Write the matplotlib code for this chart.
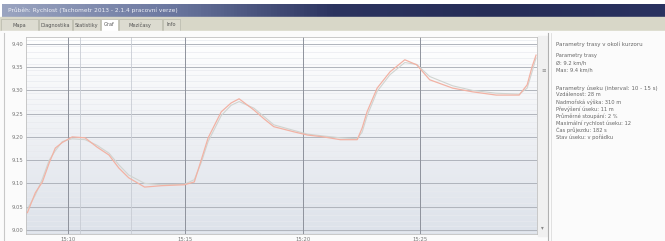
import matplotlib
matplotlib.use("Agg")
import matplotlib.pyplot as plt
from matplotlib.patches import Rectangle
import numpy as np

# time in minutes after 15:00, value of the plotted quantity
minutes = [8.26, 8.60, 8.90, 9.19, 9.45, 9.75, 10.17, 10.72, 11.23, 11.74, 12.16,
           12.58, 13.26, 13.98, 14.96, 15.38, 15.68, 15.97, 16.53, 16.95, 17.29,
           17.92, 18.35, 18.77, 19.62, 20.21, 20.89, 21.61, 22.33, 22.54, 22.75,
           23.18, 23.73, 24.36, 24.87, 25.42, 26.40, 27.25, 28.26, 29.24, 29.58,
           29.79, 29.96]
values = [9.037, 9.080, 9.103, 9.144, 9.176, 9.188, 9.200, 9.198, 9.178, 9.161,
          9.133, 9.112, 9.092, 9.095, 9.097, 9.103, 9.151, 9.198, 9.254, 9.273,
          9.282, 9.258, 9.239, 9.222, 9.211, 9.204, 9.200, 9.194, 9.194, 9.219,
          9.254, 9.305, 9.340, 9.366, 9.355, 9.323, 9.305, 9.297, 9.290, 9.290,
          9.312, 9.351, 9.376]
smooth = [9.045, 9.075, 9.110, 9.150, 9.170, 9.190, 9.196, 9.194, 9.182, 9.165,
          9.140, 9.118, 9.100, 9.097, 9.098, 9.108, 9.145, 9.190, 9.246, 9.268,
          9.276, 9.262, 9.244, 9.226, 9.214, 9.206, 9.202, 9.198, 9.196, 9.210,
          9.245, 9.298, 9.334, 9.360, 9.356, 9.330, 9.310, 9.300, 9.294, 9.292,
          9.305, 9.340, 9.370]

yticks = [9.00, 9.05, 9.10, 9.15, 9.20, 9.25, 9.30, 9.35, 9.40]
xticks = [10, 15, 20, 25]
xlabels = ["15:10", "15:15", "15:20", "15:25"]
minor_x = [10.5, 12.7]

tabs = ["Mapa", "Diagnostika", "Statistiky", "Graf", "Mezičasy", "Info"]
tab_edges = [0, 38, 72, 100, 118, 162, 180]
title_text = "Průběh: Rychlost (Tachometr 2013 - 2.1.4 pracovní verze)"

info_lines = [
    ("Parametry trasy v okolí kurzoru", 44),
    ("Parametry trasy", 56),
    ("Ø: 9.2 km/h", 63),
    ("Max: 9.4 km/h", 70),
    ("Parametry úseku (interval: 10 - 15 s)", 88),
    ("Vzdálenost: 28 m", 95),
    ("Nadmořská výška: 310 m", 102),
    ("Převýšení úseku: 11 m", 109),
    ("Průměrné stoupání: 2 %", 116),
    ("Maximální rychlost úseku: 12", 123),
    ("Čas průjezdu: 182 s", 130),
    ("Stav úseku: v pořádku", 137),
]

W, H = 665, 241
fig = plt.figure(figsize=(W / 100, H / 100), dpi=100)
fig.patch.set_facecolor("white")


def px(x0, y0, x1, y1):
    # pixel box (top-left origin) -> figure fraction rect
    return [x0 / W, 1 - y1 / H, (x1 - x0) / W, (y1 - y0) / H]


# window chrome
bg = fig.add_axes([0, 0, 1, 1])
bg.set_xlim(0, W)
bg.set_ylim(H, 0)
bg.axis("off")
grad = np.linspace(0, 1, 200)[None, :]
bg.imshow(grad, extent=(2, W, 17, 4), aspect="auto",
          cmap=matplotlib.colors.LinearSegmentedColormap.from_list(
              "tb", ["#9aa4c0", "#6c78a0", "#2c3460", "#262d57", "#2a3260"]))
bg.text(8, 10.5, title_text, color="#eef0f6", fontsize=4.2, va="center")
bg.add_patch(Rectangle((0, 17), W, 14, color="#d8d7c8"))
for i, t in enumerate(tabs):
    x0, x1 = tab_edges[i], tab_edges[i + 1]
    col = "white" if t == "Graf" else "#dcdbd0"
    bg.add_patch(Rectangle((x0 + 1, 19), x1 - x0 - 1, 12, facecolor=col,
                           edgecolor="#b8b8ac", lw=0.5))
    bg.text((x0 + x1) / 2, 25, t, fontsize=3.6, color="#555555",
            ha="center", va="center")
bg.add_patch(Rectangle((0, 31), W, 210, color="#fbfbfb"))
bg.plot([4, 4], [33, 241], color="#c8c8c8", lw=0.8)
bg.add_patch(Rectangle((538, 36), 9, 200, color="#f0f0f0"))
bg.plot([548, 548], [33, 241], color="#b0b0b0", lw=0.8)
bg.plot([551, 551], [33, 241], color="#dddddd", lw=0.6)
bg.text(541, 70, "≡", fontsize=4, color="#888888", va="center")
bg.text(541, 228, "▾", fontsize=4, color="#888888", va="center")
for txt, yy in info_lines:
    fs = 4.0 if yy in (44, 88) else 3.7
    bg.text(556, yy, txt, fontsize=fs, color="#666666", va="center")

# chart
ax = fig.add_axes(px(26, 37, 537, 234))
ax.set_xlim(8.2, 30.0)
ax.set_ylim(8.991, 9.415)
ax.imshow(np.linspace(0, 1, 100)[:, None], extent=(8.2, 30.0, 8.991, 9.415),
          aspect="auto", origin="upper", zorder=0,
          cmap=matplotlib.colors.LinearSegmentedColormap.from_list(
              "bgc", ["#ffffff", "#eef0f4", "#dde2ea"]))
for v in np.arange(8.995, 9.415, 0.0125):
    ax.axhline(v, color="#e8eaef", lw=0.5, zorder=1)
for v in yticks:
    ax.axhline(v, color="#b0b4bc", lw=0.7, zorder=1)
for v in minor_x:
    ax.axvline(v, color="#c8ccd4", lw=0.6, zorder=1)
for v in xticks:
    ax.axvline(v, color="#8e929c", lw=0.7, zorder=1)

ax.plot(minutes, smooth, color="#d0d4d0", lw=0.8, zorder=2)
ax.plot(minutes, values, color="#f2b2a4", lw=0.9, zorder=3)

ax.set_yticks(yticks)
ax.set_yticklabels([f"{v:.2f}" for v in yticks])
ax.set_xticks(xticks)
ax.set_xticklabels(xlabels)
ax.tick_params(labelsize=3.8, colors="#777777", length=0, pad=2)
for s in ax.spines.values():
    s.set_color("#c0c0c0")
    s.set_linewidth(0.6)

fig.savefig("out.png", dpi=100)
